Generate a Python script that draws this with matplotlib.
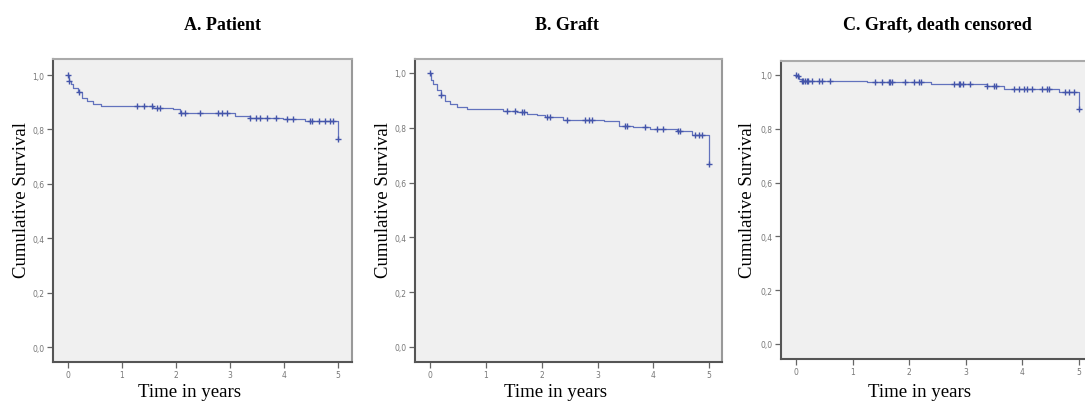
import numpy as np
import matplotlib.pyplot as plt

# Kaplan-Meier step data (time in years, survival)
A_T = [0, 0.02, 0.05, 0.10, 0.19, 0.25, 0.35, 0.47, 0.62, 1.58, 1.95, 2.07, 3.09, 3.37, 3.99, 4.39, 5.0]
A_S = [1.0, 0.979, 0.967, 0.954, 0.938, 0.914, 0.903, 0.893, 0.887, 0.880, 0.874, 0.862,
       0.849, 0.843, 0.837, 0.831, 0.765]
A_CENS = [0.0, 0.02, 0.20, 1.27, 1.40, 1.55, 1.64, 1.70, 2.10, 2.17, 2.44, 2.78, 2.86, 2.94,
          3.37, 3.49, 3.56, 3.68, 3.86, 4.05, 4.17, 4.48, 4.51, 4.65, 4.76, 4.85, 4.91, 5.0]

B_T = [0, 0.02, 0.06, 0.12, 0.19, 0.27, 0.36, 0.48, 0.66, 1.31, 1.55, 1.73, 1.91, 2.06, 2.39,
       3.11, 3.38, 3.64, 3.94, 4.42, 4.69, 5.0]
B_S = [1.0, 0.976, 0.958, 0.939, 0.921, 0.897, 0.885, 0.876, 0.869, 0.863, 0.857, 0.851, 0.845,
       0.839, 0.830, 0.824, 0.808, 0.802, 0.796, 0.788, 0.772, 0.667]
B_CENS = [0.0, 0.19, 1.37, 1.52, 1.64, 1.68, 2.09, 2.15, 2.45, 2.78, 2.84, 2.90, 3.49, 3.52,
          3.85, 4.06, 4.17, 4.45, 4.48, 4.75, 4.81, 4.88, 5.0]

C_T = [0, 0.02, 0.06, 0.10, 1.25, 2.39, 3.38, 3.67, 4.65, 5.0]
C_S = [1.0, 0.995, 0.985, 0.979, 0.973, 0.967, 0.960, 0.948, 0.936, 0.874]
C_CENS = [0.0, 0.04, 0.10, 0.13, 0.16, 0.19, 0.22, 0.28, 0.40, 0.45, 0.60, 1.40, 1.52, 1.64,
          1.66, 1.69, 1.93, 2.08, 2.17, 2.20, 2.79, 2.88, 2.90, 2.96, 3.08, 3.38, 3.50, 3.53,
          3.85, 3.94, 4.03, 4.08, 4.17, 4.35, 4.44, 4.47, 4.76, 4.82, 4.91, 5.0]

TITLES = ["A. Patient", "B. Graft", "C. Graft, death censored"]
Y_TICKS = [0.0, 0.2, 0.4, 0.6, 0.8, 1.0]
X_TICKS = [0, 1, 2, 3, 4, 5]

W, H = 1085, 406
LINE_COLOR = '#6272bd'
MARK_COLOR = '#4455aa'
SERIF = 'Liberation Serif'

# panel layout in pixels: box = left, right, top, bottom
PANELS = [
    dict(t=A_T, s=A_S, c=A_CENS, box=(53, 352, 60, 363), xlim=(-0.278, 5.26), ylim=(-0.055, 1.059),
         ylab_x=22, xlab_x=189, title_x=222),
    dict(t=B_T, s=B_S, c=B_CENS, box=(415, 722, 60, 363), xlim=(-0.27, 5.23), ylim=(-0.055, 1.051),
         ylab_x=383, xlab_x=555, title_x=567),
    dict(t=C_T, s=C_S, c=C_CENS, box=(781, 1097, 62, 360), xlim=(-0.266, 5.32), ylim=(-0.056, 1.052),
         ylab_x=747, xlab_x=920, title_x=937),
]

fig = plt.figure(figsize=(W / 100, H / 100), dpi=100)

for p, title in zip(PANELS, TITLES):
    l, r, t, b = p["box"]
    ax = fig.add_axes([l / W, 1 - b / H, (r - l) / W, (b - t) / H])
    ax.set_facecolor('#f0f0f0')

    ax.step(p["t"], p["s"], where='post', color=LINE_COLOR, lw=0.9)
    # censored observations sit on the curve
    idx = np.searchsorted(p["t"], p["c"], side='right') - 1
    cy = np.array(p["s"])[idx]
    ax.plot(p["c"], cy, '+', color=MARK_COLOR, ms=5, mew=1.0, ls='none')

    ax.set_xlim(*p["xlim"])
    ax.set_ylim(*p["ylim"])
    ax.set_xticks(X_TICKS)
    ax.set_xticklabels([str(x) for x in X_TICKS])
    ax.set_yticks(Y_TICKS)
    ax.set_yticklabels([f'{y:.1f}'.replace('.', ',') for y in Y_TICKS])
    ax.tick_params(direction='out', length=4, width=0.9, color='#666666',
                   labelsize=5.5, labelcolor='#777777', pad=2)

    ax.spines['left'].set_color('#555555')
    ax.spines['bottom'].set_color('#555555')
    ax.spines['top'].set_color('#aaaaaa')
    ax.spines['right'].set_color('#999999')
    for sp in ax.spines.values():
        sp.set_linewidth(1.5)

    fig.text(p["title_x"] / W, 1 - 25 / H, title, ha='center', va='center',
             family=SERIF, fontweight='bold', fontsize=13)
    fig.text(p["xlab_x"] / W, 1 - 393 / H, 'Time in years', ha='center', va='center',
             family=SERIF, fontsize=13.5)
    fig.text(p["ylab_x"] / W, 1 - 200 / H, 'Cumulative Survival', ha='center', va='center',
             rotation=90, family=SERIF, fontsize=13.5)

fig.savefig('out.png', dpi=100, facecolor='white')
